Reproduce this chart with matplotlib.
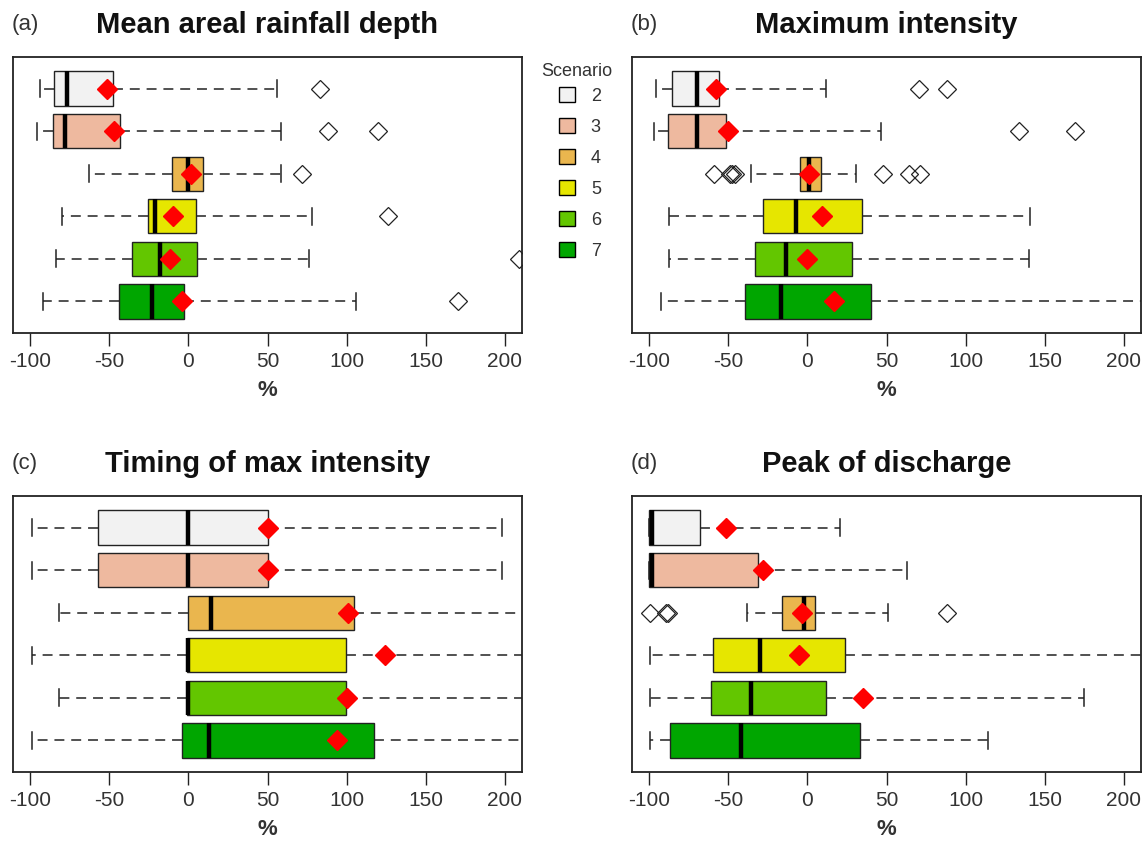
import matplotlib
matplotlib.use("Agg")
import matplotlib.pyplot as plt
from matplotlib.patches import Patch

plt.rcParams['font.family'] = ['Liberation Sans', 'DejaVu Sans']
plt.rcParams['axes.unicode_minus'] = False

# scenarios and colours (terrain palette, reversed)
scenarios = ['2', '3', '4', '5', '6', '7']
colors = ['#F2F2F2', '#EEB99F', '#EAB64E', '#E6E600', '#63C600', '#00A600']

titles = ['Mean areal rainfall depth', 'Maximum intensity',
          'Timing of max intensity', 'Peak of discharge']
tags = ['(a)', '(b)', '(c)', '(d)']

# box statistics per panel, one entry per scenario (2..7), values in %
# (a) mean areal rainfall depth
a_whislo = [-94, -96, -63, -80, -84, -92]
a_q1 = [-85, -86, -10.5, -25.5, -36, -44]
a_med = [-77, -78, -0.5, -21, -18, -23]
a_q3 = [-48, -43, 9, 4.5, 5.5, -3]
a_whishi = [56, 58.5, 58.5, 78, 76, 106]
a_mean = [-51.5, -47, 1.5, -9.5, -11.5, -4]
a_fliers = [[83.5], [88, 120], [72], [126.5], [209], [170.5]]

# (b) maximum intensity
b_whislo = [-96, -97, -35.5, -87.5, -87.5, -92.5]
b_q1 = [-86, -88, -4.5, -28, -33, -39.5]
b_med = [-70, -70, 1, -7.5, -13.5, -17]
b_q3 = [-56, -51.5, 8.5, 34.5, 28, 40]
b_whishi = [12, 46.5, 31, 141, 140, 240]
b_mean = [-58, -50.5, 1, 9, 0, 17]
b_fliers = [[70.5, 88.5], [134, 169], [-59, -49, -47.5, -46, 47.5, 64.5, 71], [], [], []]

# (c) timing of max intensity
c_whislo = [-99, -99, -82, -99, -82, -99]
c_q1 = [-57, -57, 0, -1, -1, -4]
c_med = [0, 0, 14.5, 0, 0, 13]
c_q3 = [50, 50, 105, 99.5, 99.5, 117.5]
c_whishi = [198.5, 198.5, 240, 240, 240, 240]
c_mean = [50, 50, 101, 124.5, 100.5, 94]
c_fliers = [[], [], [], [], [], []]

# (d) peak of discharge
d_whislo = [-100, -100, -38.5, -99.5, -99.5, -99.5]
d_q1 = [-100, -100, -16, -60, -61, -87]
d_med = [-98.5, -98.5, -2, -30, -35.5, -42]
d_q3 = [-68, -31, 4.5, 24, 12, 33]
d_whishi = [20.5, 63, 51, 240, 175, 114]
d_mean = [-51.5, -28, -3.5, -5.5, 35, None]
d_fliers = [[], [], [-99.5, -89.5, -88, 88.5], [], [], []]

panels = [
    (a_whislo, a_q1, a_med, a_q3, a_whishi, a_mean, a_fliers),
    (b_whislo, b_q1, b_med, b_q3, b_whishi, b_mean, b_fliers),
    (c_whislo, c_q1, c_med, c_q3, c_whishi, c_mean, c_fliers),
    (d_whislo, d_q1, d_med, d_q3, d_whishi, d_mean, d_fliers),
]

xticks = [-100, -50, 0, 50, 100, 150, 200]

fig = plt.figure(figsize=(11.45, 8.41), dpi=100)
W, H = 1145, 841
# axes boxes in pixels: left, top, right, bottom
boxes = [(13, 57, 522, 333), (632, 57, 1141, 333),
         (13, 496, 522, 772), (632, 496, 1141, 772)]

positions = [6, 5, 4, 3, 2, 1]  # scenario 2 on top

for k, (l, t, r, b) in enumerate(boxes):
    ax = fig.add_axes([l / W, 1 - b / H, (r - l) / W, (b - t) / H])
    whislo, q1, med, q3, whishi, mean, fliers = panels[k]
    stats = []
    for i in range(len(scenarios)):
        stats.append(dict(whislo=whislo[i], q1=q1[i], med=med[i], q3=q3[i],
                          whishi=whishi[i], fliers=fliers[i]))
    bp = ax.bxp(stats, positions=positions, widths=0.8, orientation='horizontal',
                patch_artist=True, showfliers=True,
                boxprops=dict(edgecolor='#222222', linewidth=1.0),
                medianprops=dict(color='black', linewidth=3.2, solid_capstyle='butt'),
                whiskerprops=dict(color='#222222', linewidth=1.1, linestyle=(0, (6.5, 4.5))),
                capprops=dict(color='#222222', linewidth=1.1),
                flierprops=dict(marker='D', markersize=9, markerfacecolor='none',
                                markeredgecolor='#222222', markeredgewidth=0.9))
    for patch, c in zip(bp['boxes'], colors):
        patch.set_facecolor(c)
    mx = [m for m in mean if m is not None]
    my = [p for m, p in zip(mean, positions) if m is not None]
    ax.plot(mx, my, linestyle='none', marker='D', markersize=10,
            color='red', markeredgecolor='red', zorder=5)

    ax.set_xlim(-111, 211)
    ax.set_ylim(0.26, 6.74)
    ax.set_yticks([])
    ax.set_xticks(xticks)
    ax.set_xticklabels([str(v) for v in xticks])
    ax.tick_params(axis='x', length=9, width=1, pad=5, labelsize=15,
                   colors='#222222', labelcolor='#333333')
    for s in ax.spines.values():
        s.set_linewidth(1.3)
        s.set_color('#222222')
    ax.set_xlabel('%', fontsize=16, fontweight='bold', labelpad=6, color='#333333')
    ax.text(0.5, 1.117, titles[k], transform=ax.transAxes, ha='center', va='center',
            fontsize=21, fontweight='bold', color='#111111')
    ax.text(-0.002, 1.117, tags[k], transform=ax.transAxes, ha='left', va='center',
            fontsize=16, color='#333333')

fig.text(577 / W, 1 - 71 / H, 'Scenario', ha='center', va='center',
         fontsize=13, color='#333333')
handles = [Patch(facecolor=c, edgecolor='black', linewidth=1.0) for c in colors]
leg = fig.legend(handles, scenarios, loc='upper left',
                 bbox_to_anchor=(552 / W, 1 - 80 / H), frameon=False,
                 fontsize=13, handlelength=0.85, handleheight=0.85,
                 handletextpad=0.9, labelspacing=0.75, borderaxespad=0)
for txt in leg.get_texts():
    txt.set_color('#333333')

fig.savefig('out.png', dpi=100)
